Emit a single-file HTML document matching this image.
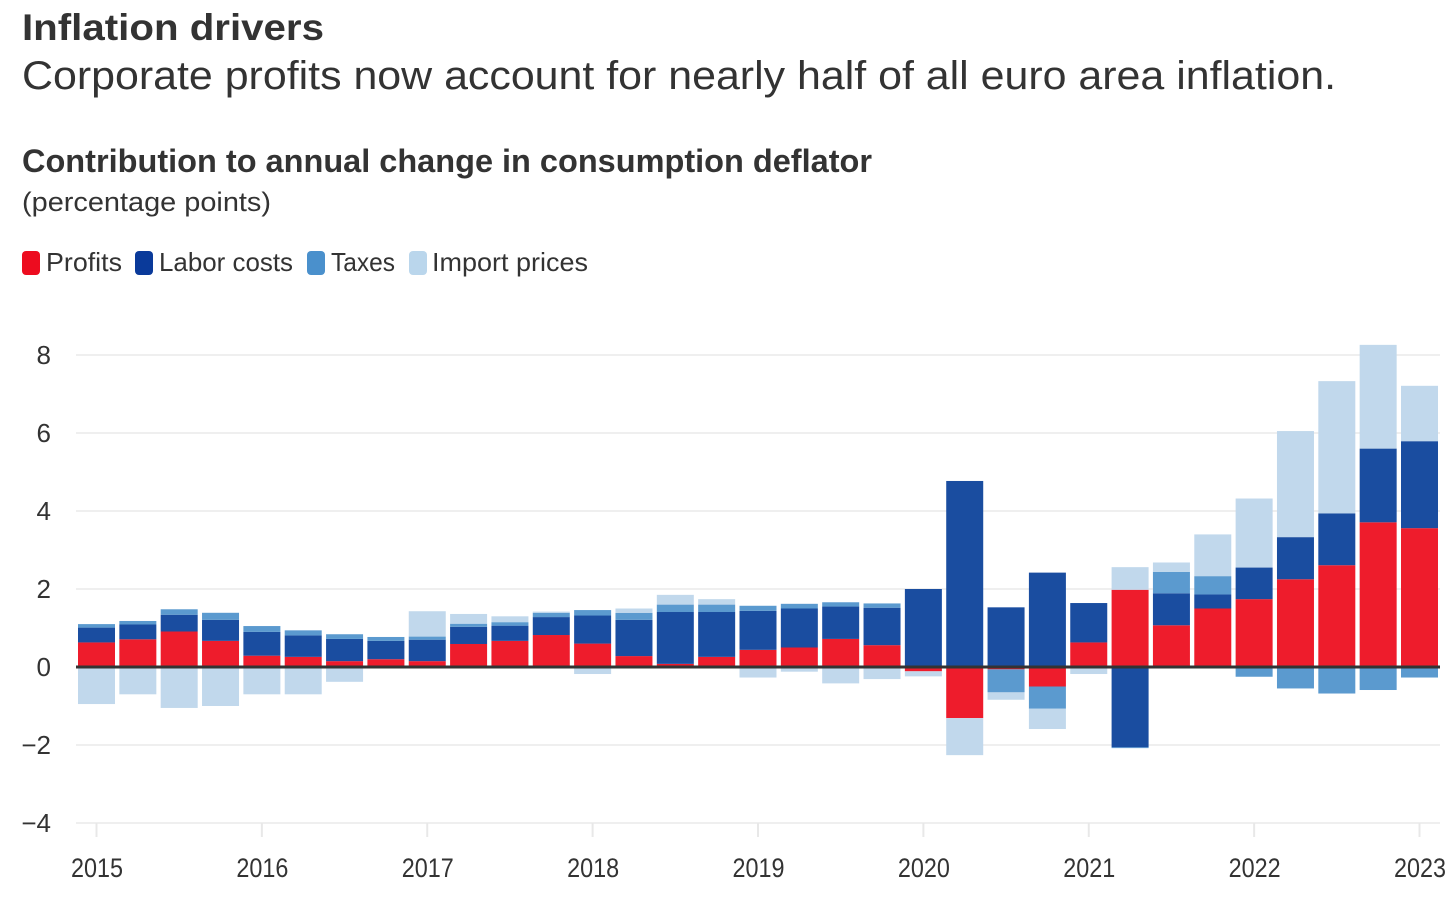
<!DOCTYPE html>
<html lang="en">
<head>
<meta charset="utf-8">
<title>Inflation drivers</title>
<style>
html,body{margin:0;padding:0;background:#fff;}
svg{display:block;font-family:"Liberation Sans",sans-serif;}
</style>
</head>
<body>
<svg id="chart" xmlns="http://www.w3.org/2000/svg" width="1456" height="905" viewBox="0 0 1456 905">
  <rect x="0" y="0" width="1456" height="905" fill="#ffffff"/>
  <text x="22" y="40" font-size="37" font-weight="700" fill="#333333" textLength="302" lengthAdjust="spacingAndGlyphs">Inflation drivers</text>
  <text x="22" y="89" font-size="40" fill="#333333" textLength="1314" lengthAdjust="spacingAndGlyphs">Corporate profits now account for nearly half of all euro area inflation.</text>
  <text x="22" y="172" font-size="32" font-weight="700" fill="#333333" textLength="850" lengthAdjust="spacingAndGlyphs">Contribution to annual change in consumption deflator</text>
  <text x="22" y="211" font-size="27" fill="#333333" textLength="249" lengthAdjust="spacingAndGlyphs">(percentage points)</text>

  <g>
    <g>
      <rect x="22" y="251" width="18" height="24" rx="4" fill="#ed0c1f"/>
      <text x="46" y="271" font-size="26" fill="#333333" textLength="76" lengthAdjust="spacingAndGlyphs">Profits</text>
    </g>
    <g>
      <rect x="135" y="251" width="18" height="24" rx="4" fill="#0a3a9a"/>
      <text x="159" y="271" font-size="26" fill="#333333" textLength="134" lengthAdjust="spacingAndGlyphs">Labor costs</text>
    </g>
    <g>
      <rect x="307" y="251" width="18" height="24" rx="4" fill="#4a90cc"/>
      <text x="331" y="271" font-size="26" fill="#333333" textLength="64" lengthAdjust="spacingAndGlyphs">Taxes</text>
    </g>
    <g>
      <rect x="409" y="251" width="18" height="24" rx="4" fill="#bad6ec"/>
      <text x="432" y="271" font-size="26" fill="#333333" textLength="156" lengthAdjust="spacingAndGlyphs">Import prices</text>
    </g>
  </g>

  <g id="grid"></g>
  <g id="yLabels"></g>
  <g id="xAxis"></g>
  <g id="bars"></g>
  <line id="zeroLine" stroke="#333333" stroke-width="3"/>
</svg>

<script>
const categories = [
  "2015Q1","2015Q2","2015Q3","2015Q4","2016Q1","2016Q2","2016Q3","2016Q4",
  "2017Q1","2017Q2","2017Q3","2017Q4","2018Q1","2018Q2","2018Q3","2018Q4",
  "2019Q1","2019Q2","2019Q3","2019Q4","2020Q1","2020Q2","2020Q3","2020Q4",
  "2021Q1","2021Q2","2021Q3","2021Q4","2022Q1","2022Q2","2022Q3","2022Q4","2023Q1"
];
const profits = [0.63,0.71,0.91,0.67,0.29,0.26,0.15,0.20,0.15,0.59,0.67,0.82,0.60,0.28,0.08,0.26,0.44,0.50,0.72,0.56,-0.11,-1.31,-0.06,-0.50,0.63,1.98,1.07,1.50,1.74,2.25,2.61,3.71,3.56];
const laborCosts = [0.38,0.38,0.43,0.54,0.61,0.55,0.57,0.47,0.55,0.44,0.39,0.46,0.72,0.93,1.33,1.15,1.00,1.00,0.83,0.96,2.00,4.77,1.53,2.42,1.01,-2.06,0.82,0.36,0.81,1.08,1.33,1.89,2.23];
const taxes = [0.09,0.09,0.14,0.18,0.15,0.13,0.12,0.10,0.08,0.08,0.09,0.11,0.14,0.18,0.19,0.19,0.13,0.12,0.11,0.11,0,0,-0.59,-0.57,0,-0.02,0.55,0.47,-0.25,-0.55,-0.68,-0.59,-0.27];
const importPrices = [-0.95,-0.70,-1.05,-1.00,-0.70,-0.70,-0.38,0,0.65,0.25,0.15,0.03,-0.18,0.11,0.25,0.14,-0.27,-0.12,-0.42,-0.31,-0.13,-0.95,-0.19,-0.52,-0.18,0.58,0.24,1.07,1.77,2.72,3.39,2.66,1.42];
const yTicks = [-4,-2,0,2,4,6,8];
const yTickLabels = ["\u22124","\u22122","0","2","4","6","8"];
const xTickCategories = ["2015Q1","2016Q1","2017Q1","2018Q1","2019Q1","2020Q1","2021Q1","2022Q1","2023Q1"];
const xTickLabels = ["2015","2016","2017","2018","2019","2020","2021","2022","2023"];

const NS = "http://www.w3.org/2000/svg";
const plotLeft = 76, plotRight = 1440, barWidth = 37;
const firstCenter = 96.5, lastCenter = 1419.5;
const zeroY = 667, pxPerUnit = 39;

function xScale(i) {
  return firstCenter + i * (lastCenter - firstCenter) / (categories.length - 1);
}
function yScale(v) {
  return zeroY - v * pxPerUnit;
}
function make(tag, attrs, parent) {
  const el = document.createElementNS(NS, tag);
  for (const k in attrs) el.setAttribute(k, attrs[k]);
  parent.appendChild(el);
  return el;
}

const grid = document.getElementById("grid");
const yLabels = document.getElementById("yLabels");
yTicks.forEach(function (t, i) {
  if (t !== 0) {
    const gl = make("line", {x1: plotLeft, x2: plotRight, y1: yScale(t), y2: yScale(t), stroke: "#efefef", "stroke-width": 2}, grid);
    
    
  }
  const lb = make("text", {x: 51, y: yScale(t) + 9, "text-anchor": "end", "font-size": 26, fill: "#333333"}, yLabels);
  
  
  lb.textContent = yTickLabels[i];
});

const xAxis = document.getElementById("xAxis");
xTickCategories.forEach(function (c, i) {
  const x = xScale(categories.indexOf(c));
  const tick = make("line", {x1: x, x2: x, y1: yScale(-4), y2: yScale(-4) + 14, stroke: "#e8e8e8", "stroke-width": 2}, xAxis);
  
  
  const lb = make("text", {x: x + 0.5, y: 877, "text-anchor": "middle", "font-size": 27, fill: "#333333", textLength: 52, lengthAdjust: "spacingAndGlyphs"}, xAxis);
  
  
  lb.textContent = xTickLabels[i];
});

const bars = document.getElementById("bars");
const seriesNames = ["profits", "labor-costs", "taxes", "import-prices"];
const seriesValues = [profits, laborCosts, taxes, importPrices];
const seriesColors = ["#ee1c2c", "#1a4da0", "#5b9acf", "#c1d8ec"];
categories.forEach(function (c, i) {
  let up = 0, down = 0;
  seriesValues.forEach(function (vals, s) {
    const v = vals[i];
    if (!v) return;
    let a, b;
    if (v > 0) { a = up; up += v; b = up; }
    else { a = down; down += v; b = down; }
    const y1 = yScale(Math.max(a, b)), y2 = yScale(Math.min(a, b));
    const r = make("rect", {x: xScale(i) - barWidth / 2, y: y1, width: barWidth, height: y2 - y1, fill: seriesColors[s]}, bars);
    
    
  });
});

const zero = document.getElementById("zeroLine");
zero.setAttribute("x1", plotLeft);
zero.setAttribute("x2", plotRight);
zero.setAttribute("y1", yScale(0));
zero.setAttribute("y2", yScale(0));
</script>
</body>
</html>
